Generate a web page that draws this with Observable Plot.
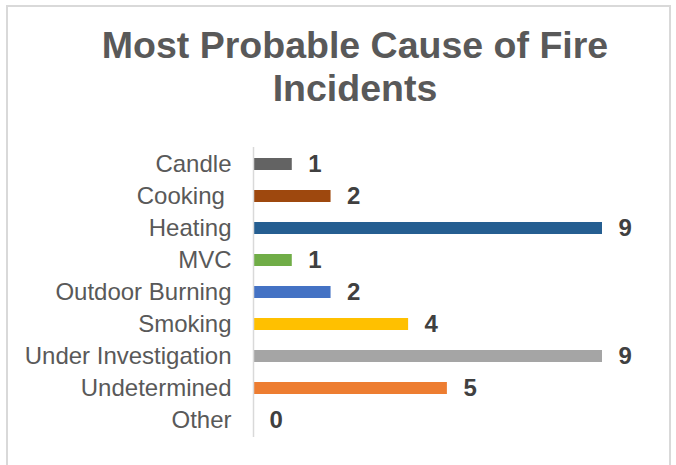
<!DOCTYPE html>
<html>
<head>
<meta charset="utf-8">
<script src="https://cdn.jsdelivr.net/npm/d3@7"></script>
<script src="https://cdn.jsdelivr.net/npm/@observablehq/plot@0.6"></script>
<style>
  html, body { margin: 0; padding: 0; background: #fff; }
  #wrap { position: relative; width: 676px; height: 465px; overflow: hidden; background: #fff; }
  #frame { position: absolute; left: 6px; top: 5px; width: 661px; height: 480px; border: 2px solid #d9d9d9; box-sizing: content-box; }
  #title { position: absolute; left: 55px; width: 600px; top: 24px; text-align: center;
    font-family: "Liberation Sans", Arial, sans-serif; font-weight: bold; font-size: 37.5px; line-height: 43px; color: #595959; }
  #chart { position: absolute; left: 0; top: 120px; }
</style>
</head>
<body>
<div id="wrap">
  <div id="frame"></div>
  <div id="title">Most Probable Cause of Fire<br>Incidents</div>
  <div id="chart"></div>
</div>
<script>
const causes = ["Candle", "Cooking\u00a0", "Heating", "MVC", "Outdoor Burning", "Smoking", "Under Investigation", "Undetermined", "Other"];
const counts = [1, 2, 9, 1, 2, 4, 9, 5, 0];
const barColors = ["#636363", "#9E480E", "#255E91", "#70AD47", "#4472C4", "#FFC000", "#A5A5A5", "#ED7D31", "#5B9BD5"];

const data = causes.map((c, i) => ({cause: c, value: counts[i]}));

const chart = Plot.plot({
  width: 676,
  height: 345,
  marginTop: 27,
  marginBottom: 28,
  marginLeft: 253,
  marginRight: 74,
  style: {fontFamily: "'Liberation Sans', Arial, sans-serif", color: "#595959", background: "transparent"},
  x: {domain: [0, 9], axis: null},
  y: {domain: causes, paddingInner: 0.63, paddingOuter: 0.315, label: null},
  color: {domain: causes, range: barColors},
  marks: [
    Plot.barX(data, {x: "value", y: "cause", fill: "cause"}),
    Plot.ruleX([0], {stroke: "#d9d9d9", strokeWidth: 1.5}),
    Plot.axisY({tickSize: 0, tickPadding: 22, fontSize: 24, label: null}),
    Plot.text(data, {x: "value", y: "cause", text: d => String(d.value), textAnchor: "start", dx: 16,
      fontSize: 24, fontWeight: "bold", fill: "#404040"})
  ]
});
document.getElementById("chart").appendChild(chart);
</script>
</body>
</html>
